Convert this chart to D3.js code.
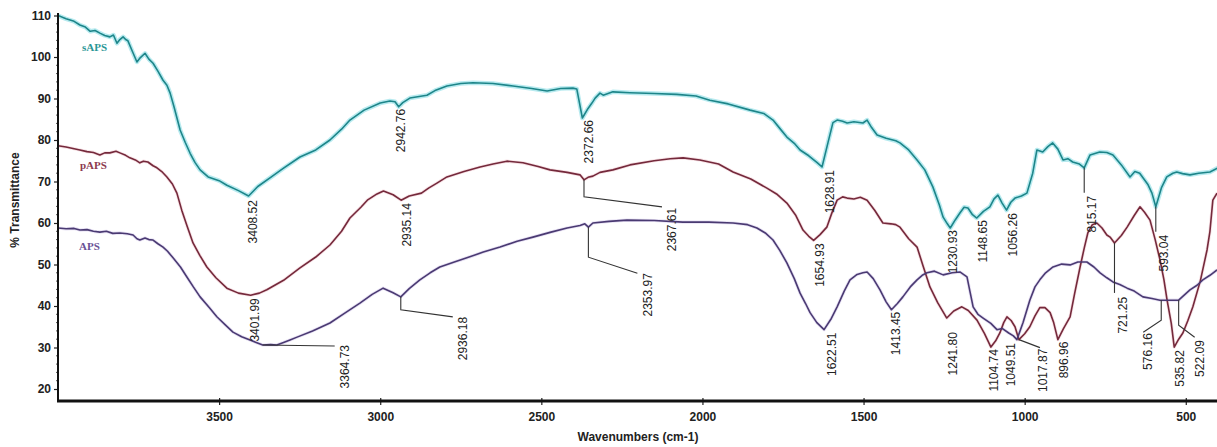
<!DOCTYPE html>
<html>
<head>
<meta charset="utf-8">
<script src="https://cdn.jsdelivr.net/npm/d3@7"></script>
<style>
  html, body { margin: 0; padding: 0; background: #fff; }
  svg { display: block; }
  .tick text { font-family: "Liberation Sans", Arial, sans-serif; font-weight: bold; font-size: 12px; fill: #222; }
  .peak { font-family: "Liberation Sans", Arial, sans-serif; font-size: 12px; fill: #222; }
  .title { font-family: "Liberation Sans", Arial, sans-serif; font-weight: bold; font-size: 12px; fill: #222; }
  .name { font-family: "Liberation Serif", "Times New Roman", serif; font-weight: bold; font-size: 11px; }
</style>
</head>
<body>
<svg id="chart" width="1217" height="447"></svg>
<script>
// FTIR spectra: [wavenumber (cm-1), % transmittance]
const sAPS = [
  [4000,110],[3975,109.2],[3950,108.6],[3932,107.7],[3915,107.2],[3900,106.2],[3885,106.4],[3870,105.75],
  [3855,105.2],[3839,104.85],[3828,105.3],[3817,103.3],[3808,104.2],[3798,104.85],[3790,104.2],[3783,103.9],
  [3770,101.5],[3755,98.8],[3745,99.8],[3730,100.9],[3718,99.5],[3705,98.5],[3690,96.6],[3674,94.4],
  [3662,93.2],[3652,91.3],[3640,88],[3621,82.4],[3605,79.4],[3590,76.8],[3575,74.6],[3559,72.8],
  [3534,71.1],[3500,70.2],[3476,69.1],[3440,67.8],[3408.52,66.5],[3380,68.8],[3340,71],[3300,73.2],
  [3249,75.9],[3200,77.6],[3156,80.0],[3120,82.6],[3094,84.8],[3050,87.2],[3000,88.9],[2970,89.4],
  [2954,89.2],[2942.76,88.0],[2930,89.0],[2908,90.1],[2855,90.8],[2830,91.9],[2793,93.0],[2750,93.6],
  [2712,93.8],[2650,93.6],[2588,93.0],[2530,92.4],[2482,91.8],[2440,92.4],[2402,92.5],[2390,92.3],
  [2372.66,85.3],[2355,87.6],[2343,88.9],[2333,90.1],[2318,91.3],[2308,90.8],[2278,91.6],[2225,91.4],
  [2150,91.2],[2080,91.0],[2020,90.6],[1977,89.6],[1920,88.7],[1852,87.2],[1810,86.4],[1781,84.8],
  [1760,82.8],[1738,80.7],[1715,79.2],[1697,77.6],[1670,76.2],[1645,74.6],[1628.91,73.5],[1610,79.5],
  [1595,84.2],[1582,84.8],[1565,84.5],[1551,84.1],[1530,84.4],[1502,84.1],[1489,84.8],[1475,83.0],
  [1458,81.2],[1430,80.4],[1400,79.8],[1387,79.3],[1360,77.6],[1334,75.2],[1310,72.8],[1285,68.7],
  [1265,64.4],[1253,61.4],[1240,59.8],[1230.93,58.8],[1215,60.8],[1201,62.4],[1188,63.8],[1176,63.6],
  [1162,62.0],[1148.65,61.2],[1128,62.8],[1108,63.9],[1095,65.8],[1083,66.7],[1070,64.8],[1056.26,63.1],
  [1043,65.0],[1030,66.0],[1010,66.5],[993,67.2],[975,72],[962,77.6],[944,77.1],[928,78.4],
  [913,79.3],[897,77.8],[881,75.2],[866,75.5],[851,74.7],[830,74.2],[815.17,73.3],[797,76.4],
  [767,77.1],[745,77.0],[726,76.4],[700,74.0],[673,71.1],[658,72.4],[643,72.0],[630,70.6],
  [617,69.2],[605,67.2],[593.04,63.9],[575,68.6],[559,71.1],[540,72.0],[528,72.3],[510,71.9],
  [487,71.6],[460,72.0],[425,72.3],[400,73.3]
];
const pAPS = [
  [4000,78.6],[3975,78.3],[3950,77.9],[3932,77.6],[3910,77.2],[3890,77.0],[3870,76.4],[3855,76.9],
  [3839,76.9],[3820,77.3],[3808,76.9],[3790,76.3],[3777,75.7],[3760,75.2],[3746,74.5],[3735,74.9],
  [3721,74.7],[3705,73.8],[3693,73.3],[3678,72.4],[3662,71.1],[3645,69.4],[3631,67.2],[3616,63.1],
  [3600,59.4],[3581,55.2],[3560,52.2],[3538,49.4],[3510,46.8],[3476,44.3],[3440,43.1],[3401.99,42.6],
  [3375,43.1],[3352,43.9],[3300,46.2],[3249,49.2],[3200,51.8],[3156,54.7],[3120,58.0],[3094,61.2],
  [3060,63.8],[3040,65.5],[3010,67.0],[2990,67.7],[2960,66.8],[2935.14,65.5],[2910,66.5],[2872,67.2],
  [2850,68.4],[2824,69.6],[2793,71.1],[2740,72.4],[2690,73.5],[2650,74.2],[2607,74.9],[2557,74.5],
  [2510,73.6],[2473,72.8],[2420,72.2],[2380,71.6],[2367.61,70.4],[2355,71.0],[2340,71.3],[2318,72.2],
  [2278,72.8],[2225,74.0],[2150,75.0],[2100,75.5],[2060,75.7],[2008,75.2],[1950,74.2],[1905,72.3],
  [1850,70.6],[1800,68.4],[1770,67.0],[1738,64.8],[1710,61.8],[1688,58.3],[1670,56.8],[1654.93,55.8],
  [1635,57.2],[1614,59.0],[1598,62.5],[1582,65.5],[1565,66.3],[1551,66.0],[1530,65.8],[1510,66.2],
  [1489,65.5],[1465,63.0],[1440,60.0],[1415,59.8],[1400,59.6],[1387,59.0],[1360,56.2],[1334,54.2],
  [1315,49.6],[1294,44.6],[1270,40.8],[1241.80,37.1],[1220,38.8],[1195,39.8],[1175,38.9],[1148,36.6],
  [1125,33.4],[1104.74,30.1],[1090,31.6],[1077,33.5],[1065,36.0],[1055,37.4],[1042,36.5],[1030,35.0],
  [1017.87,31.9],[1000,33.3],[984,35.0],[968,37.6],[953,39.6],[937,39.6],[921,38.4],[910,36.0],
  [896.96,31.9],[880,34.5],[859,37.4],[845,43.0],[828,49.4],[815,54.0],[804,57.6],[790,59.6],
  [776,60.0],[760,58.8],[745,57.1],[735,56.6],[721.25,55.2],[700,57.0],[682,59.0],[660,61.8],
  [642,63.9],[628,62.6],[611,60.7],[595,56.0],[580,51.1],[568,46.4],[558,41.4],[545,35.8],
  [535.82,30.1],[522,32.0],[509,33.5],[494,36.4],[478,39.8],[455,46.0],[434,53.5],[425,58.0],
  [416,65.5],[403,67.2]
];
const APS = [
  [4000,58.8],[3975,58.6],[3950,58.7],[3932,58.3],[3910,58.4],[3890,58.0],[3870,57.8],[3850,58.0],
  [3830,57.5],[3808,57.6],[3785,57.4],[3767,57.1],[3755,56.2],[3746,55.9],[3730,56.4],[3718,56.0],
  [3705,55.9],[3690,55.0],[3674,54.2],[3660,53.2],[3643,51.6],[3620,49.4],[3600,47.0],[3580,44.6],
  [3559,42.2],[3530,39.6],[3507,37.4],[3480,35.4],[3457,33.7],[3430,32.6],[3404,31.8],[3385,31.2],
  [3364.73,30.6],[3340,30.7],[3321,30.6],[3300,31.2],[3280,31.8],[3258,32.5],[3210,34.0],[3156,35.9],
  [3110,38.3],[3063,40.7],[3025,42.8],[2991,44.3],[2960,43.2],[2936.18,42.2],[2910,44.2],[2877,46.3],
  [2845,48.0],[2815,49.4],[2770,50.6],[2731,51.6],[2680,53.0],[2628,54.2],[2575,55.6],[2526,56.6],
  [2470,57.8],[2420,58.8],[2380,59.4],[2365,59.8],[2353.97,59.0],[2340,60.0],[2290,60.4],[2234,60.7],
  [2150,60.6],[2061,60.2],[1980,60.2],[1905,60.0],[1860,59.6],[1831,58.8],[1805,57.6],[1781,55.9],
  [1760,53.4],[1738,50.4],[1715,46.6],[1697,43.1],[1680,40.6],[1666,38.4],[1645,36.0],[1622.51,34.3],
  [1600,37.0],[1582,39.8],[1560,43.6],[1542,46.3],[1520,47.6],[1502,48.0],[1489,48.2],[1470,46.6],
  [1449,43.9],[1430,41.0],[1413.45,39.1],[1395,40.6],[1378,42.2],[1355,44.6],[1334,46.3],[1318,47.4],
  [1303,48.0],[1280,48.4],[1253,47.5],[1225,48.0],[1201,48.2],[1179,47.0],[1170,43.6],[1160,39.8],
  [1145,38.0],[1129,37.1],[1105,35.8],[1086,34.3],[1070,34.6],[1049.51,33.5],[1035,32.8],[1024,31.9],
  [1005,36.0],[984,41.4],[968,44.6],[953,46.3],[935,48.0],[912,49.4],[885,50.1],[859,49.9],
  [835,50.6],[807,50.6],[785,49.4],[766,48.0],[745,46.8],[726,45.8],[705,45.2],[682,44.3],
  [660,43.6],[633,42.2],[605,41.8],[580,41.4],[576.16,41.4],[558,41.4],[540,41.4],[522.09,41.4],
  [505,42.6],[487,43.9],[465,45.0],[447,46.3],[425,47.4],[403,48.7]
];

// Labelled band positions (cm-1) for each spectrum
const sAPSPeaks = [3408.52, 2942.76, 2372.66, 1628.91, 1230.93, 1148.65, 1056.26, 815.17, 593.04];
const pAPSPeaks = [3401.99, 2935.14, 2367.61, 1654.93, 1241.80, 1104.74, 1017.87, 896.96, 721.25, 535.82];
const APSPeaks  = [3364.73, 2936.18, 2353.97, 1622.51, 1413.45, 1049.51, 576.16, 522.09];

const seriesNames = ["sAPS", "pAPS", "APS"];
const xTicks = [3500, 3000, 2500, 2000, 1500, 1000, 500];
const yTicks = [20, 30, 40, 50, 60, 70, 80, 90, 100, 110];

// ---- styling / layout ----
const lineColors = { sAPS: "#1d8589", pAPS: "#74293b", APS: "#4a3a72" };
const haloColors = { sAPS: "#9fe3ea", pAPS: "#efc3cb", APS: "#cfc4ea" };
const nameColors = { sAPS: "#2a9696", pAPS: "#8c3a4e", APS: "#6a5296" };
const namePos    = { sAPS: [82, 51], pAPS: [80, 169], APS: [79, 250] };

// label offset from the band point, plus optional leader line (pixels)
const callout = {
  "3408.52": { label: [4, 4] },
  "2942.76": { label: [2, 2] },
  "2372.66": { label: [6, 2] },
  "1628.91": { label: [8, 3] },
  "1230.93": { label: [3, 2] },
  "1148.65": { label: [6, 2] },
  "1056.26": { label: [6, 3] },
  "815.17":  { label: [8, 28], leader: [[0, 0], [0, 25]] },
  "593.04":  { label: [8, 28], leader: [[0, 0], [0, 25]] },
  "3401.99": { label: [4, 3] },
  "2935.14": { label: [6, 3] },
  "2367.61": { label: [88, 28], leader: [[0, 0], [0, 17], [78, 27]] },
  "1654.93": { label: [6, 3] },
  "1241.80": { label: [6, 14] },
  "1104.74": { label: [3, 2] },
  "1017.87": { label: [24, 9], leader: [[0, 0], [21, 8]] },
  "896.96":  { label: [6, 2] },
  "721.25":  { label: [8, 54], leader: [[0, 0], [0, 50]] },
  "535.82":  { label: [6, 3] },
  "3364.73": { label: [82, 0], leader: [[0, 0], [72, 1]] },
  "2936.18": { label: [62, 20], leader: [[0, 0], [0, 13], [52, 20]] },
  "2353.97": { label: [59, 46], leader: [[0, 0], [0, 30], [49, 46]] },
  "1622.51": { label: [8, 3] },
  "1413.45": { label: [4, 2] },
  "1049.51": { label: [2, 10] },
  "576.16":  { label: [-13, 33], leader: [[0, 0], [0, 20], [-18, 32]] },
  "522.09":  { label: [21, 40], leader: [[0, 0], [0, 25], [16, 37]] }
};

const svg = d3.select("#chart");
const x = d3.scaleLinear().domain([4000, 400]).range([58, 1218]);
const y = d3.scaleLinear().domain([110, 20]).range([15.5, 389]);
const axisY0 = 401;

svg.append("defs").append("clipPath").attr("id", "plot")
  .append("rect").attr("x", 58).attr("y", 0).attr("width", 1160).attr("height", axisY0);

const data = { sAPS, pAPS, APS };
const peaks = { sAPS: sAPSPeaks, pAPS: pAPSPeaks, APS: APSPeaks };
const line = d3.line().x(d => x(d[0])).y(d => y(d[1])).curve(d3.curveLinear);

const curves = svg.append("g").attr("clip-path", "url(#plot)");
seriesNames.forEach(name => {
  curves.append("path").datum(data[name])
    .attr("d", line).attr("fill", "none")
    .attr("stroke", haloColors[name]).attr("stroke-width", name === "sAPS" ? 4.5 : 3.2)
    .attr("stroke-opacity", name === "sAPS" ? 0.75 : 0.5)
    .attr("stroke-linejoin", "round");
});
seriesNames.forEach(name => {
  curves.append("path").datum(data[name])
    .attr("d", line).attr("fill", "none")
    .attr("stroke", lineColors[name]).attr("stroke-width", 1.6)
    .attr("stroke-linejoin", "round");
});

// band labels with leaders
const notes = svg.append("g");
seriesNames.forEach(name => {
  peaks[name].forEach(wn => {
    const pt = data[name].find(d => d[0] === wn);
    const ax = x(pt[0]), ay = y(pt[1]);
    const text = d3.format(".2f")(wn);
    const c = callout[text];
    if (c.leader) {
      notes.append("path")
        .attr("d", d3.line()(c.leader.map(p => [ax + p[0], ay + p[1]])))
        .attr("fill", "none").attr("stroke", "#333").attr("stroke-width", 1.1);
    }
    notes.append("text").attr("class", "peak")
      .attr("transform", `translate(${ax + c.label[0]},${ay + c.label[1]}) rotate(-90)`)
      .attr("text-anchor", "end").attr("dy", "0.35em")
      .text(text);
  });
});

// series names
seriesNames.forEach(name => {
  svg.append("text").attr("class", "name")
    .attr("x", namePos[name][0]).attr("y", namePos[name][1])
    .attr("fill", nameColors[name]).text(name);
});

// axes
const yAxis = svg.append("g").attr("transform", "translate(58,0)")
  .call(d3.axisLeft(y).tickValues(yTicks).tickSize(4).tickPadding(3).tickSizeOuter(0));
yAxis.select(".domain").remove();
yAxis.selectAll(".tick line").attr("stroke", "#222").attr("stroke-width", 1.2);

// minor ticks on the y axis
svg.append("g").selectAll("line")
  .data(d3.range(20, 110.1, 2).filter(v => v % 10 !== 0))
  .join("line")
  .attr("x1", 56).attr("x2", 58).attr("y1", d => y(d)).attr("y2", d => y(d))
  .attr("stroke", "#555").attr("stroke-width", 1);

const xAxis = svg.append("g").attr("transform", `translate(0,${axisY0})`)
  .call(d3.axisBottom(x).tickValues(xTicks).tickFormat(d3.format("d")).tickSize(4).tickPadding(7).tickSizeOuter(0));
xAxis.select(".domain").remove();
xAxis.selectAll(".tick line").attr("stroke", "#222").attr("stroke-width", 1.2).attr("y1", -3);

svg.append("line").attr("x1", 58).attr("x2", 58).attr("y1", 13).attr("y2", axisY0 + 1)
  .attr("stroke", "#111").attr("stroke-width", 2);
svg.append("line").attr("x1", 57).attr("x2", 1217).attr("y1", axisY0).attr("y2", axisY0)
  .attr("stroke", "#111").attr("stroke-width", 3);

svg.append("text").attr("class", "title")
  .attr("x", 638).attr("y", 441).attr("text-anchor", "middle")
  .text("Wavenumbers (cm-1)");
svg.append("text").attr("class", "title")
  .attr("transform", "translate(19,200) rotate(-90)").attr("text-anchor", "middle")
  .text("% Transmittance");
</script>
</body>
</html>
